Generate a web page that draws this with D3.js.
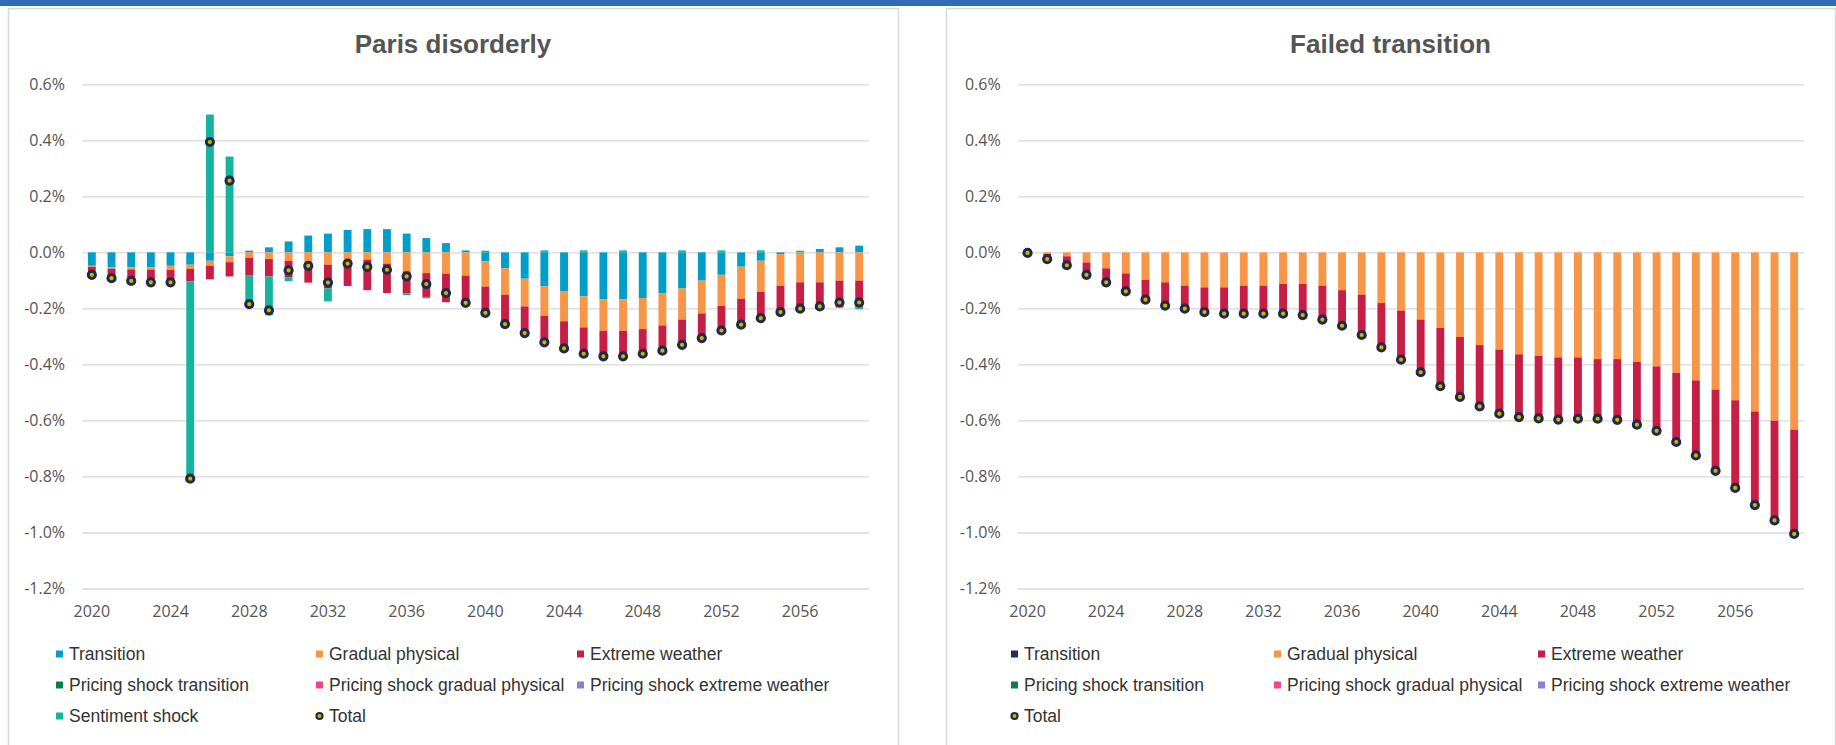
<!DOCTYPE html>
<head>
<meta charset="utf-8">
<script src="https://cdn.jsdelivr.net/npm/d3@7/dist/d3.min.js"></script>
<style>
    body{margin:0;background:#fff;overflow:hidden;}
    .tick text{font-family:"Open Sans",sans-serif;font-size:16px;fill:#555;}
    .title{font-family:"Liberation Sans",Arial,sans-serif;font-weight:bold;font-size:26px;fill:#555;}
    .legend text{font-family:"Liberation Sans",Arial,sans-serif;font-size:17.5px;fill:#333;}
</style>
</head>
<body>
<div id="container"></div>
<script>
    // categories and ticks
    var years = [2020,2021,2022,2023,2024,2025,2026,2027,2028,2029,
                 2030,2031,2032,2033,2034,2035,2036,2037,2038,2039,
                 2040,2041,2042,2043,2044,2045,2046,2047,2048,2049,
                 2050,2051,2052,2053,2054,2055,2056,2057,2058,2059];
    var yearTicks = [2020,2024,2028,2032,2036,2040,2044,2048,2052,2056];
    var pctTicks = [0.6,0.4,0.2,0.0,-0.2,-0.4,-0.6,-0.8,-1.0,-1.2];

    // Paris disorderly (values in %)
    var pdTransition = [-0.048,-0.053,-0.053,-0.053,-0.048,-0.044,-0.030,-0.014,0.006,0.018,
                        0.039,0.060,0.067,0.080,0.083,0.083,0.067,0.051,0.033,0.007,
                        -0.032,-0.057,-0.094,-0.121,-0.140,-0.157,-0.167,-0.167,-0.163,-0.146,
                        -0.129,-0.101,-0.080,-0.051,-0.030,-0.006,0,0.012,0.018,0.024];
    var pdGradual = [-0.004,-0.005,-0.008,-0.009,-0.015,-0.015,-0.018,-0.021,-0.019,-0.024,
                     -0.030,-0.040,-0.044,-0.030,-0.027,-0.040,-0.068,-0.074,-0.076,-0.083,
                     -0.090,-0.094,-0.099,-0.105,-0.106,-0.111,-0.113,-0.113,-0.111,-0.115,
                     -0.111,-0.117,-0.111,-0.115,-0.111,-0.113,-0.107,-0.107,-0.101,-0.101];
    var pdExtreme = [-0.028,-0.034,-0.041,-0.045,-0.044,-0.045,-0.048,-0.051,-0.062,-0.062,
                     -0.060,-0.068,-0.085,-0.090,-0.108,-0.105,-0.079,-0.085,-0.102,-0.104,
                     -0.100,-0.105,-0.095,-0.102,-0.097,-0.101,-0.091,-0.098,-0.088,-0.090,
                     -0.097,-0.088,-0.095,-0.092,-0.101,-0.094,-0.100,-0.098,-0.096,-0.094];
    var pdSentiment = [0,0,0,0,0,-0.704,0.492,0.342,-0.110,-0.139,
                       -0.013,0,-0.046,0,0,0,-0.006,-0.005,0,0,
                       0.006,0,0,0.007,0,0.007,0,0.007,0,0,
                       0.007,0,0.007,0,0.007,0,0.006,0,0,-0.008];
    var pdTotal = [-0.080,-0.092,-0.102,-0.107,-0.107,-0.808,0.394,0.256,-0.185,-0.207,
                   -0.064,-0.048,-0.108,-0.040,-0.052,-0.062,-0.086,-0.113,-0.145,-0.180,
                   -0.216,-0.256,-0.288,-0.321,-0.343,-0.362,-0.371,-0.371,-0.362,-0.351,
                   -0.330,-0.306,-0.279,-0.258,-0.235,-0.213,-0.201,-0.193,-0.179,-0.179];

    // Failed transition (values in %)
    var ftTransition = [0,0,0,0,0,0,0,0,0,0, 0,0,0,0,0,0,0,0,0,0,
                        0,0,0,0,0,0,0,0,0,0, 0,0,0,0,0,0,0,0,0,0];
    var ftGradual = [0,-0.005,-0.014,-0.036,-0.057,-0.075,-0.098,-0.107,-0.119,-0.125,
                     -0.125,-0.119,-0.119,-0.113,-0.113,-0.119,-0.135,-0.151,-0.181,-0.208,
                     -0.240,-0.270,-0.302,-0.331,-0.347,-0.364,-0.369,-0.375,-0.375,-0.381,
                     -0.381,-0.391,-0.407,-0.430,-0.457,-0.490,-0.528,-0.568,-0.601,-0.633];
    var ftExtreme = [-0.002,-0.019,-0.032,-0.044,-0.050,-0.064,-0.071,-0.083,-0.082,-0.088,
                     -0.094,-0.100,-0.100,-0.106,-0.111,-0.121,-0.127,-0.144,-0.158,-0.175,
                     -0.188,-0.208,-0.214,-0.219,-0.229,-0.224,-0.224,-0.222,-0.219,-0.213,
                     -0.217,-0.224,-0.230,-0.247,-0.268,-0.290,-0.313,-0.334,-0.356,-0.372];
    var ftTotal = [-0.002,-0.024,-0.046,-0.080,-0.107,-0.139,-0.169,-0.190,-0.201,-0.213,
                   -0.219,-0.219,-0.219,-0.219,-0.224,-0.240,-0.262,-0.295,-0.339,-0.383,
                   -0.428,-0.478,-0.516,-0.550,-0.576,-0.588,-0.593,-0.597,-0.594,-0.594,
                   -0.598,-0.615,-0.637,-0.677,-0.725,-0.780,-0.841,-0.902,-0.957,-1.005];

    // pricing shocks are zero in both scenarios
    var pricingShock = [0,0,0,0,0,0,0,0,0,0, 0,0,0,0,0,0,0,0,0,0,
                        0,0,0,0,0,0,0,0,0,0, 0,0,0,0,0,0,0,0,0,0];

    var svg = d3.select("#container").append("svg").attr("width",1836).attr("height",745);
    svg.append("rect").attr("width",1836).attr("height",6).attr("fill","#2E6CB4");

    function drawPanel(opt){
        var g = svg.append("g");
        // frame
        g.append("rect").attr("x",opt.frame[0]+0.5).attr("y",8.5)
            .attr("width",opt.frame[1]-opt.frame[0]).attr("height",760)
            .attr("fill","#fff").attr("stroke","#D9D9D9").attr("stroke-width",1.5);
        g.append("text").attr("class","title").attr("text-anchor","middle")
            .attr("x",(opt.frame[0]+opt.frame[1])/2).attr("y",53).text(opt.title);

        var x = d3.scaleBand().domain(years).range([opt.left,opt.right]).paddingInner(0.6).paddingOuter(0.3);
        var y = d3.scaleLinear().domain([-1.2,0.6]).range([588.5,84.3]);

        // gridlines + y labels
        var yAxis = g.append("g").attr("transform","translate("+opt.left+",0)")
            .call(d3.axisLeft(y).tickValues(pctTicks).tickSize(-(opt.right-opt.left)).tickPadding(17)
                .tickFormat(function(d){ return d.toFixed(1)+"%"; }));
        yAxis.select(".domain").remove();
        yAxis.selectAll("line").attr("stroke","#D9D9D9").attr("stroke-width",1.3);
        yAxis.selectAll("text").attr("dy","0.34em");

        var xAxis = g.append("g").attr("transform","translate(0,588.5)")
            .call(d3.axisBottom(x).tickValues(yearTicks).tickSize(0).tickPadding(17));
        xAxis.select(".domain").remove();

        // stacked bars
        var keys = opt.series.map(function(s){ return s.key; });
        var rows = years.map(function(yr,i){
            var r = {year:yr};
            opt.series.forEach(function(s){ r[s.key] = s.values[i]; });
            return r;
        });
        var stacked = d3.stack().keys(keys).offset(d3.stackOffsetDiverging)(rows);
        var colors = {};
        opt.series.forEach(function(s){ colors[s.key] = s.color; });

        g.append("g").selectAll("g").data(stacked).enter().append("g")
            .attr("fill",function(d){ return colors[d.key]; })
            .selectAll("rect").data(function(d){ return d.filter(function(p){ return p[1]!==p[0]; }); })
            .enter().append("rect")
            .attr("x",function(d){ return x(d.data.year); })
            .attr("width",x.bandwidth())
            .attr("y",function(d){ return y(Math.max(d[0],d[1])); })
            .attr("height",function(d){ return Math.abs(y(d[0])-y(d[1])); });

        // totals
        g.append("g").selectAll("circle").data(opt.total).enter().append("circle")
            .attr("cx",function(d,i){ return x(years[i])+x.bandwidth()/2; })
            .attr("cy",function(d){ return y(d); })
            .attr("r",3.6).attr("fill","#D8B000").attr("stroke","#1C2B4A").attr("stroke-width",3);

        // legend
        var lg = g.append("g").attr("class","legend");
        opt.legend.forEach(function(item,i){
            var cx = opt.legendCols[i%3], cy = opt.legendRows[Math.floor(i/3)];
            if(item.dot){
                lg.append("circle").attr("cx",cx+3.5).attr("cy",cy).attr("r",3)
                    .attr("fill","#D8B000").attr("stroke","#1C2B4A").attr("stroke-width",2.2);
            } else {
                lg.append("rect").attr("x",cx).attr("y",cy-3.5).attr("width",7).attr("height",7).attr("fill",item.color);
            }
            lg.append("text").attr("x",cx+13).attr("y",cy).attr("dy","0.35em").text(item.name);
        });
    }

    var orange = "#F79646", red = "#C71E45", psGreen = "#0B7F4B", psPink = "#E8498B", psPurple = "#8A7FD6";

    drawPanel({
        title:"Paris disorderly", frame:[8,898], left:82, right:869,
        series:[
            {key:"Transition", values:pdTransition, color:"#009EC8"},
            {key:"Gradual physical", values:pdGradual, color:orange},
            {key:"Extreme weather", values:pdExtreme, color:red},
            {key:"Pricing shock transition", values:pricingShock, color:psGreen},
            {key:"Pricing shock gradual physical", values:pricingShock, color:psPink},
            {key:"Pricing shock extreme weather", values:pricingShock, color:psPurple},
            {key:"Sentiment shock", values:pdSentiment, color:"#16B49E"}
        ],
        total:pdTotal,
        legend:[
            {name:"Transition", color:"#009EC8"},
            {name:"Gradual physical", color:orange},
            {name:"Extreme weather", color:red},
            {name:"Pricing shock transition", color:psGreen},
            {name:"Pricing shock gradual physical", color:psPink},
            {name:"Pricing shock extreme weather", color:psPurple},
            {name:"Sentiment shock", color:"#16B49E"},
            {name:"Total", dot:true}
        ],
        legendCols:[56,316,577], legendRows:[654,685,716]
    });

    drawPanel({
        title:"Failed transition", frame:[946,1835], left:1017.7, right:1804,
        series:[
            {key:"Transition", values:ftTransition, color:"#1B3358"},
            {key:"Gradual physical", values:ftGradual, color:orange},
            {key:"Extreme weather", values:ftExtreme, color:red},
            {key:"Pricing shock transition", values:pricingShock, color:psGreen},
            {key:"Pricing shock gradual physical", values:pricingShock, color:psPink},
            {key:"Pricing shock extreme weather", values:pricingShock, color:psPurple}
        ],
        total:ftTotal,
        legend:[
            {name:"Transition", color:"#1B3358"},
            {name:"Gradual physical", color:orange},
            {name:"Extreme weather", color:red},
            {name:"Pricing shock transition", color:psGreen},
            {name:"Pricing shock gradual physical", color:psPink},
            {name:"Pricing shock extreme weather", color:psPurple},
            {name:"Total", dot:true}
        ],
        legendCols:[1011,1274,1538], legendRows:[654,685,716]
    });
</script>
</body>
